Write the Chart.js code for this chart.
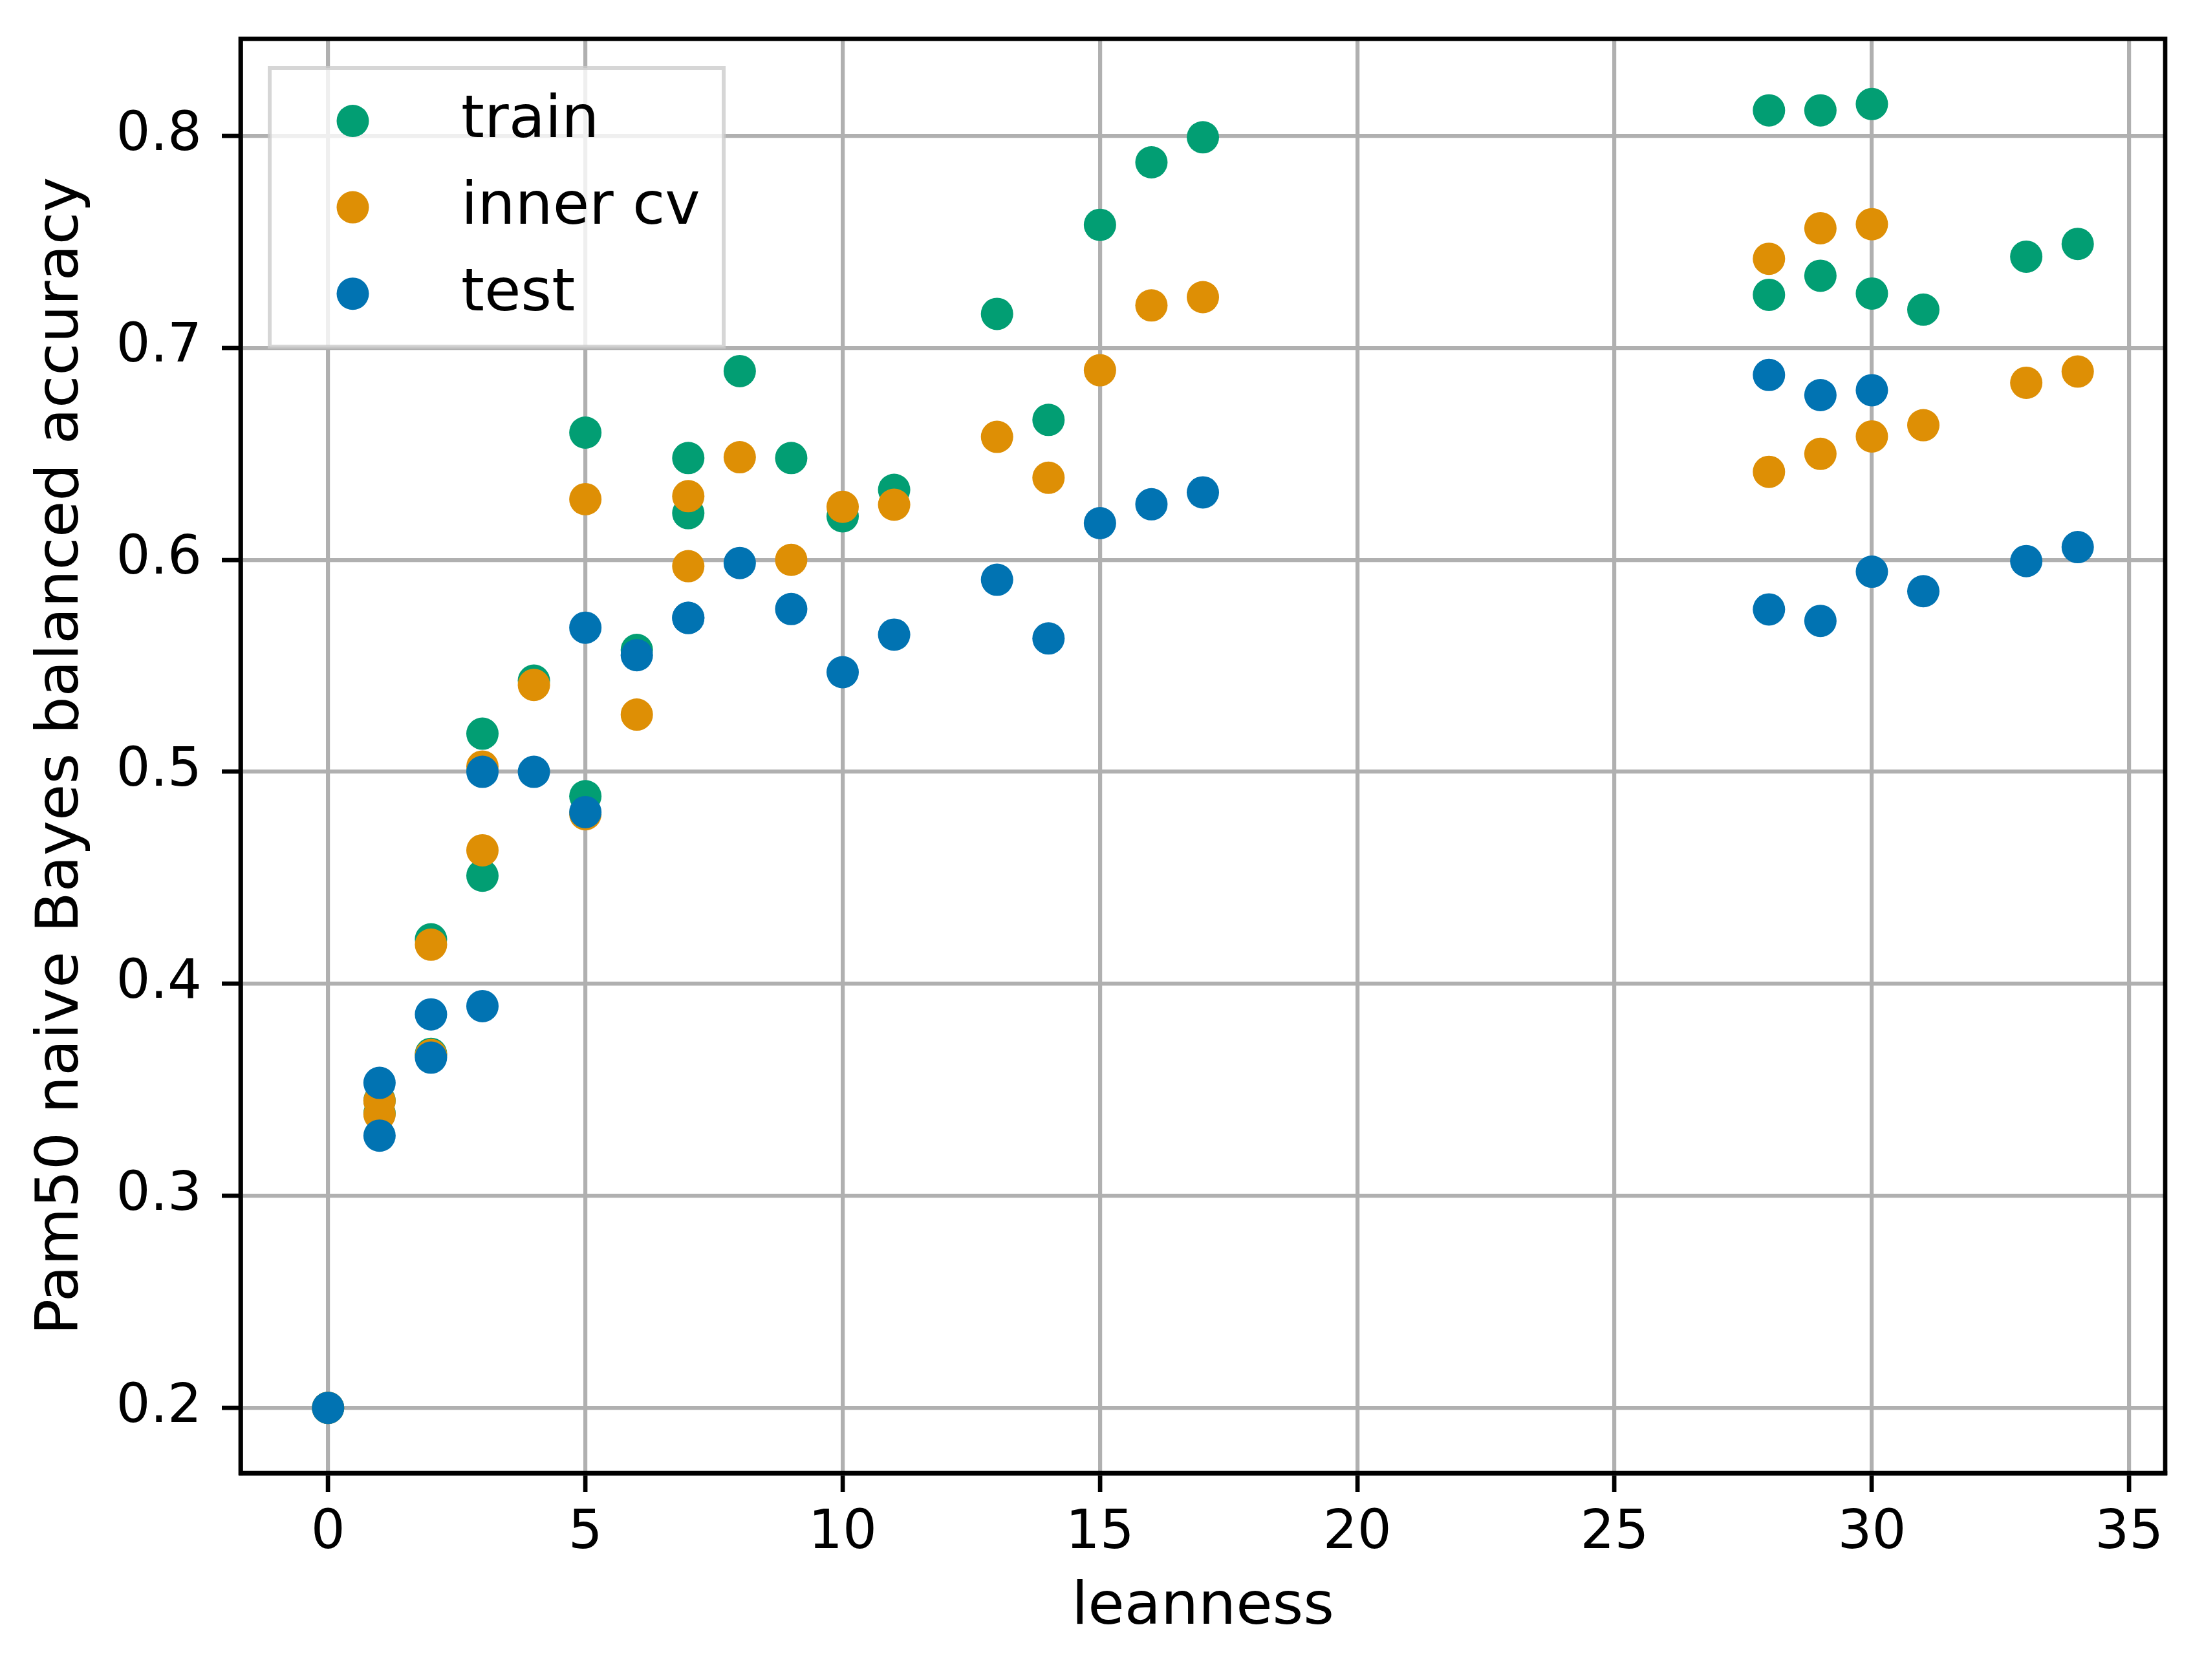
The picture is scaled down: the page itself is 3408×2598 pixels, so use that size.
<!DOCTYPE html>
<html>
<head>
<meta charset="utf-8">
<script src="https://cdn.jsdelivr.net/npm/chart.js@4.4.1/dist/chart.umd.min.js"></script>
<style>
  html, body { margin: 0; padding: 0; background: #fff; }
  canvas { display: block; }
</style>
</head>
<body>
<canvas id="chart" width="3408" height="2598" style="width:3408px;height:2598px"></canvas>
<script>
// Values, one entry per run.
const leanness = [0, 1, 1, 2, 2, 3, 3, 4, 5, 5, 6, 7, 7, 8, 9, 10, 11, 13, 14, 15, 16, 17, 28, 28, 29, 29, 30, 30, 31, 33, 34];
const trainAcc = [0.200, 0.345, 0.339, 0.421, 0.367, 0.518, 0.451, 0.543, 0.660, 0.4885, 0.5575, 0.648, 0.622, 0.689, 0.648, 0.6205, 0.633, 0.716, 0.666, 0.758, 0.7875, 0.7993, 0.812, 0.725, 0.812, 0.734, 0.815, 0.7256, 0.718, 0.743, 0.749];
const innerCvAcc = [0.200, 0.3447, 0.3384, 0.4185, 0.3664, 0.5025, 0.463, 0.541, 0.6286, 0.480, 0.527, 0.630, 0.597, 0.6484, 0.600, 0.625, 0.626, 0.658, 0.6387, 0.6894, 0.720, 0.7239, 0.742, 0.6415, 0.7564, 0.650, 0.7583, 0.6582, 0.6635, 0.6835, 0.6888];
const testAcc = [0.200, 0.3533, 0.3284, 0.3856, 0.3652, 0.500, 0.3895, 0.500, 0.568, 0.481, 0.555, 0.5726, 0.5726, 0.5985, 0.5768, 0.547, 0.5647, 0.5906, 0.5629, 0.6173, 0.6262, 0.6318, 0.6872, 0.5766, 0.6777, 0.5712, 0.680, 0.5944, 0.5852, 0.5994, 0.606];

const seriesNames = ['train', 'inner cv', 'test'];
const seriesColors = ['#029e73', '#de8f05', '#0173b2'];
const xTickValues = [0, 5, 10, 15, 20, 25, 30, 35];
const yTickValues = [0.2, 0.3, 0.4, 0.5, 0.6, 0.7, 0.8];

const FONT = 'DejaVu Sans';

// matplotlib style 5% margins around the data
function paddedRange(vals) {
    const lo = Math.min(...vals), hi = Math.max(...vals);
    const m = (hi - lo) * 0.05;
    return [lo - m, hi + m];
}
const [xMin, xMax] = paddedRange(leanness);
const [yMin, yMax] = paddedRange(trainAcc.concat(innerCvAcc, testAcc));

function toPoints(ys) {
    return leanness.map((x, i) => ({ x: x, y: ys[i] }));
}

// all four spines plus the legend box inside the axes
const frameAndLegend = {
    id: 'frameAndLegend',
    afterDraw(chart) {
        const ctx = chart.ctx;
        const a = chart.chartArea;
        ctx.save();
        ctx.strokeStyle = '#000';
        ctx.lineWidth = 6.7;
        ctx.strokeRect(a.left, a.top, a.right - a.left, a.bottom - a.top);

        const bx = a.left + 45, by = a.top + 45, bw = 702, bh = 431;
        ctx.fillStyle = 'rgba(255, 255, 255, 0.8)';
        ctx.fillRect(bx, by, bw, bh);
        ctx.strokeStyle = 'rgba(204, 204, 204, 0.8)';
        ctx.lineWidth = 6;
        ctx.strokeRect(bx, by, bw, bh);

        ctx.font = '91.7px "' + FONT + '"';
        ctx.textAlign = 'left';
        ctx.textBaseline = 'alphabetic';
        chart.data.datasets.forEach((ds, i) => {
            const cy = by + 82 + i * 133.6;
            ctx.beginPath();
            ctx.arc(bx + 128.5, cy, 25, 0, Math.PI * 2);
            ctx.fillStyle = ds.backgroundColor;
            ctx.fill();
            ctx.fillStyle = '#000';
            ctx.fillText(ds.label, bx + 296, cy + 25.4);
        });
        ctx.restore();
    }
};

const ctx = document.getElementById('chart').getContext('2d');
const datasets = [trainAcc, innerCvAcc, testAcc].map((ys, i) => ({
    label: seriesNames[i],
    data: toPoints(ys),
    backgroundColor: seriesColors[i],
    borderWidth: 0,
    pointRadius: 25,
    pointHoverRadius: 25,
    order: 3 - i
}));

new Chart(ctx, {
    type: 'scatter',
    data: { datasets: datasets },
    options: {
        responsive: false,
        devicePixelRatio: 1,
        animation: false,
        events: [],
        layout: { padding: { top: 60, right: 60, bottom: 0, left: 0 } },
        plugins: {
            legend: { display: false },
            tooltip: { enabled: false }
        },
        scales: {
            x: {
                type: 'linear',
                min: xMin,
                max: xMax,
                z: 1,
                afterFit: function(scale) {
                    scale.height = 320;
                    scale.paddingLeft = 0;
                    scale.paddingRight = 0;
                },
                afterBuildTicks: function(scale) {
                    scale.ticks = xTickValues.map(v => ({ value: v }));
                },
                grid: {
                    color: '#b0b0b0',
                    lineWidth: 6.2,
                    tickLength: 29,
                    tickColor: '#000',
                    tickWidth: 6.7
                },
                border: { display: true, color: '#000', width: 6.7 },
                ticks: {
                    color: '#000',
                    padding: 15,
                    maxRotation: 0,
                    autoSkip: false,
                    font: { family: FONT, size: 83.3 },
                    callback: function(value) { return String(value); }
                },
                title: {
                    display: true,
                    text: 'leanness',
                    color: '#000',
                    font: { family: FONT, size: 91.7 },
                    padding: { top: 0, bottom: 55.4 }
                }
            },
            y: {
                type: 'linear',
                min: yMin,
                max: yMax,
                z: 1,
                afterFit: function(scale) {
                    scale.width = 372;
                    scale.paddingTop = 0;
                    scale.paddingBottom = 0;
                },
                afterBuildTicks: function(scale) {
                    scale.ticks = yTickValues.map(v => ({ value: v }));
                },
                grid: {
                    color: '#b0b0b0',
                    lineWidth: 6.2,
                    tickLength: 29,
                    tickColor: '#000',
                    tickWidth: 6.7
                },
                border: { display: true, color: '#000', width: 6.7 },
                ticks: {
                    color: '#000',
                    padding: 31,
                    autoSkip: false,
                    font: { family: FONT, size: 83.3 },
                    callback: function(value) { return value.toFixed(1); }
                },
                title: {
                    display: true,
                    text: 'Pam50 naive Bayes balanced accuracy',
                    color: '#000',
                    font: { family: FONT, size: 91.7 },
                    padding: { top: 41.6, bottom: 0 }
                }
            }
        }
    },
    plugins: [frameAndLegend]
});
</script>
</body>
</html>
